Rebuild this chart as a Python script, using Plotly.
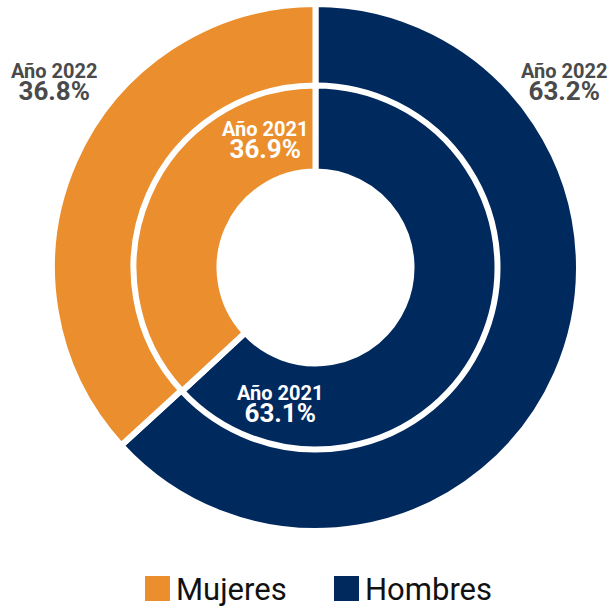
import plotly.graph_objects as go

# ---- data ----
categories = ["Mujeres", "Hombres"]
values_2022 = [36.8, 63.2]
values_2021 = [36.9, 63.1]
year_outer = "Año 2022"
year_inner = "Año 2021"
colors = ["#EA8E2E", "#00295E"]

W, H = 612, 608

def dom(cx, cy, r):
    return dict(x=[(cx - r) / W, (cx + r) / W],
                y=[(H - cy - r) / H, (H - cy + r) / H])

CX, CY = 315.5, 267.5
LW = 6

fig = go.Figure()
# Hombres drawn first, clockwise from 12 o'clock (Mujeres ends up on the left)
fig.add_trace(go.Pie(
    labels=categories[::-1], values=values_2022[::-1], sort=False, direction="clockwise",
    rotation=0, hole=181 / 263.5, domain=dom(CX, CY, 263.5),
    marker=dict(colors=colors[::-1], line=dict(color="white", width=LW)),
    textinfo="none", hoverinfo="label+percent", showlegend=False,
))
fig.add_trace(go.Pie(
    labels=categories[::-1], values=values_2021[::-1], sort=False, direction="clockwise",
    rotation=0, hole=96 / 182, domain=dom(CX, CY, 182),
    marker=dict(colors=colors[::-1], line=dict(color="white", width=LW)),
    textinfo="none", hoverinfo="label+percent", showlegend=False,
))

FONT = "Roboto"
def px_y(py):
    return 1 - py / H

annotations = []
def label(x, yc, year, val, color):
    txt = (f"<span style='font-size:20px'><b>{year}</b></span><br>"
           f"<span style='font-size:26px'><b>{val:.1f}%</b></span>")
    annotations.append(dict(x=x / W, y=px_y(yc), xref="paper", yref="paper", showarrow=False,
                            text=txt, font=dict(family=FONT, size=17, color=color),
                            xanchor="center", yanchor="middle", align="center"))

label(54, 82, year_outer, values_2022[0], "#4a4a4a")
label(564, 82, year_outer, values_2022[1], "#4a4a4a")
label(265, 140, year_inner, values_2021[0], "white")
label(280, 405, year_inner, values_2021[1], "white")

# manual legend (large square swatches)
shapes = []
leg_x = [145, 334]
for cat, col, lx in zip(categories, colors, leg_x):
    shapes.append(dict(type="rect", xref="paper", yref="paper",
                       x0=lx / W, x1=(lx + 25) / W, y0=px_y(601), y1=px_y(576),
                       fillcolor=col, line=dict(width=0)))
    annotations.append(dict(x=(lx + 29) / W, y=px_y(589), xref="paper", yref="paper",
                            showarrow=False, text=cat, xanchor="left", yanchor="middle",
                            font=dict(family=FONT, size=31, color="#111111")))

fig.update_layout(
    width=W, height=H, margin=dict(l=0, r=0, t=0, b=0),
    paper_bgcolor="white", plot_bgcolor="white",
    annotations=annotations, shapes=shapes, showlegend=False,
)

fig.write_html(
    "out.html",
    config={"displayModeBar": False},
    post_script="document.body.style.margin='0';document.body.style.overflow='hidden';",
)
